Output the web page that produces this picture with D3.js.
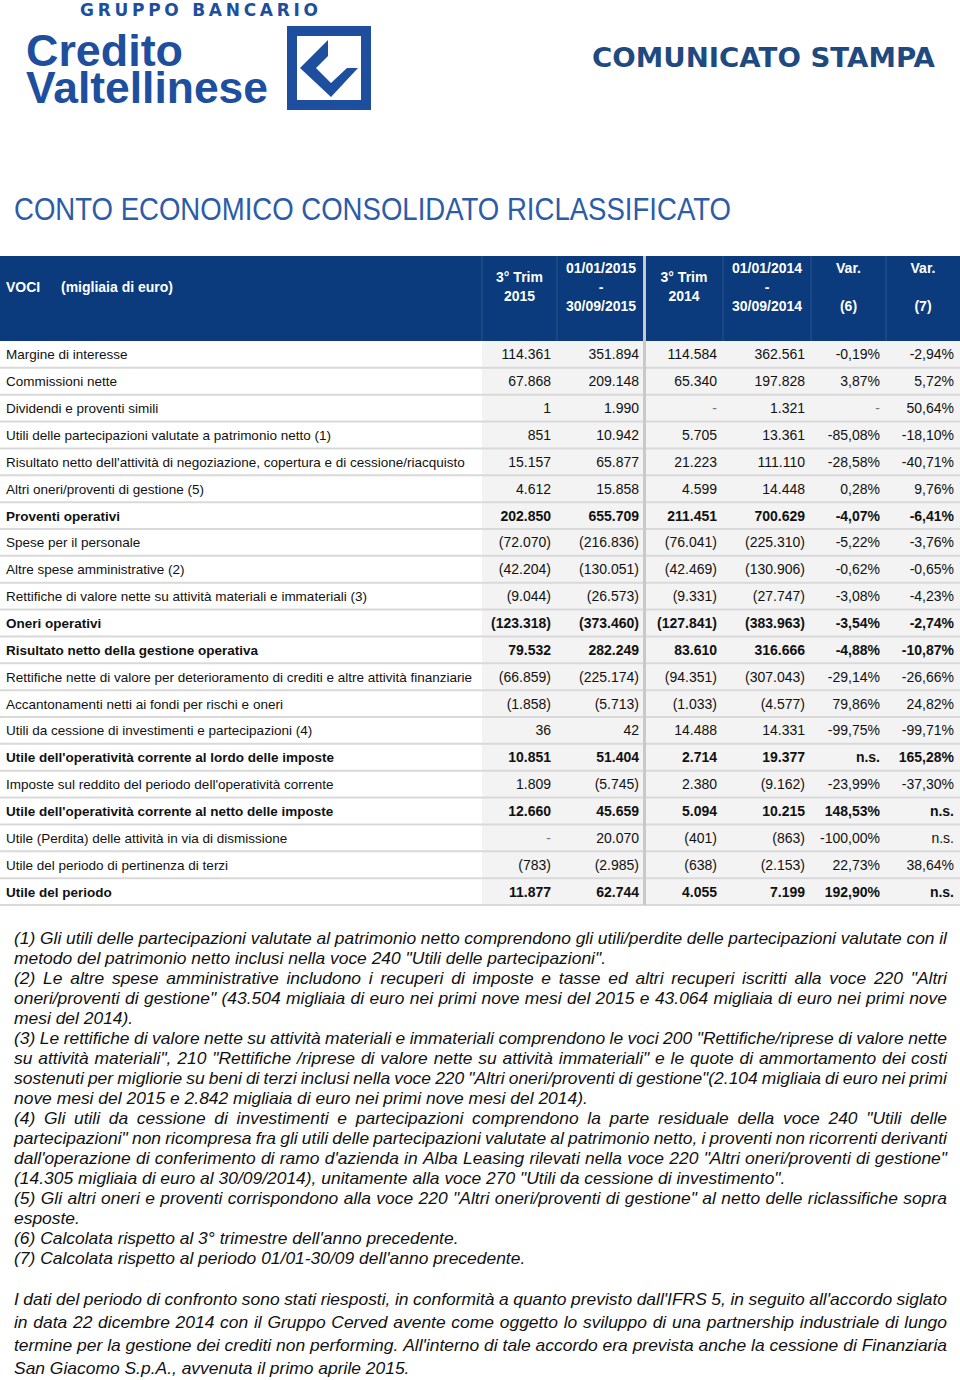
<!DOCTYPE html>
<html>
<head>
<meta charset="utf-8">
<script src="https://cdn.jsdelivr.net/npm/d3@7"></script>
<style>
  body { margin: 0; background: #fff; }
  svg { display: block; }
</style>
</head>
<body>
<div class="page"></div>
<script>
// voci del conto economico
var voci = [
  "Margine di interesse",
  "Commissioni nette",
  "Dividendi e proventi simili",
  "Utili delle partecipazioni valutate a patrimonio netto (1)",
  "Risultato netto dell'attività di negoziazione, copertura e di cessione/riacquisto",
  "Altri oneri/proventi di gestione (5)",
  "Proventi operativi",
  "Spese per il personale",
  "Altre spese amministrative (2)",
  "Rettifiche di valore nette su attività materiali e immateriali (3)",
  "Oneri operativi",
  "Risultato netto della gestione operativa",
  "Rettifiche nette di valore per deterioramento di crediti e altre attività finanziarie",
  "Accantonamenti netti ai fondi per rischi e oneri",
  "Utili da cessione di investimenti e partecipazioni (4)",
  "Utile dell'operatività corrente al lordo delle imposte",
  "Imposte sul reddito del periodo dell'operatività corrente",
  "Utile dell'operatività corrente al netto delle imposte",
  "Utile (Perdita) delle attività in via di dismissione",
  "Utile del periodo di pertinenza di terzi",
  "Utile del periodo"
];
var totali = ["Proventi operativi", "Oneri operativi", "Risultato netto della gestione operativa",
  "Utile dell'operatività corrente al lordo delle imposte",
  "Utile dell'operatività corrente al netto delle imposte", "Utile del periodo"];

var trim2015 = ["114.361","67.868","1","851","15.157","4.612","202.850","(72.070)","(42.204)","(9.044)",
  "(123.318)","79.532","(66.859)","(1.858)","36","10.851","1.809","12.660","-","(783)","11.877"];
var periodo2015 = ["351.894","209.148","1.990","10.942","65.877","15.858","655.709","(216.836)","(130.051)","(26.573)",
  "(373.460)","282.249","(225.174)","(5.713)","42","51.404","(5.745)","45.659","20.070","(2.985)","62.744"];
var trim2014 = ["114.584","65.340","-","5.705","21.223","4.599","211.451","(76.041)","(42.469)","(9.331)",
  "(127.841)","83.610","(94.351)","(1.033)","14.488","2.714","2.380","5.094","(401)","(638)","4.055"];
var periodo2014 = ["362.561","197.828","1.321","13.361","111.110","14.448","700.629","(225.310)","(130.906)","(27.747)",
  "(383.963)","316.666","(307.043)","(4.577)","14.331","19.377","(9.162)","10.215","(863)","(2.153)","7.199"];
var var6 = ["-0,19%","3,87%","-","-85,08%","-28,58%","0,28%","-4,07%","-5,22%","-0,62%","-3,08%",
  "-3,54%","-4,88%","-29,14%","79,86%","-99,75%","n.s.","-23,99%","148,53%","-100,00%","22,73%","192,90%"];
var var7 = ["-2,94%","5,72%","50,64%","-18,10%","-40,71%","9,76%","-6,41%","-3,76%","-0,65%","-4,23%",
  "-2,74%","-10,87%","-26,66%","24,82%","-99,71%","165,28%","-37,30%","n.s.","n.s.","38,64%","n.s."];

var colonne = ["t15", "p15", "t14", "p14", "v6", "v7"];
var intestazioni = [
  ["3° Trim", "2015"],
  ["01/01/2015", "-", "30/09/2015"],
  ["3° Trim", "2014"],
  ["01/01/2014", "-", "30/09/2014"],
  ["Var.", "", "(6)"],
  ["Var.", "", "(7)"]
];

var note = [
  ["(1) Gli utili delle partecipazioni valutate al patrimonio netto comprendono gli utili/perdite delle partecipazioni valutate con il", true],
  ["metodo del patrimonio netto inclusi nella voce 240 \"Utili delle partecipazioni\".", false],
  ["(2) Le altre spese amministrative includono i recuperi di imposte e tasse ed altri recuperi iscritti alla voce 220 \"Altri", true],
  ["oneri/proventi di gestione\" (43.504 migliaia di euro nei primi nove mesi del 2015 e 43.064 migliaia di euro nei primi nove", true],
  ["mesi del 2014).", false],
  ["(3) Le rettifiche di valore nette su attività materiali e immateriali comprendono le voci 200 \"Rettifiche/riprese di valore nette", true],
  ["su attività materiali\", 210 \"Rettifiche /riprese di valore nette su attività immateriali\" e le quote di ammortamento dei costi", true],
  ["sostenuti per migliorie su beni di terzi inclusi nella voce 220 \"Altri oneri/proventi di gestione\"(2.104 migliaia di euro nei primi", true],
  ["nove mesi del 2015 e 2.842 migliaia di euro nei primi nove mesi del 2014).", false],
  ["(4) Gli utili da cessione di investimenti e partecipazioni comprendono la parte residuale della voce 240 \"Utili delle", true],
  ["partecipazioni\" non ricompresa fra gli utili delle partecipazioni valutate al patrimonio netto, i proventi non ricorrenti derivanti", true],
  ["dall'operazione di conferimento di ramo d'azienda in Alba Leasing rilevati nella voce 220 \"Altri oneri/proventi di gestione\"", true],
  ["(14.305 migliaia di euro al 30/09/2014), unitamente alla voce 270 \"Utili da cessione di investimento\".", false],
  ["(5) Gli altri oneri e proventi corrispondono alla voce 220 \"Altri oneri/proventi di gestione\" al netto delle riclassifiche sopra", true],
  ["esposte.", false],
  ["(6) Calcolata rispetto al 3° trimestre dell'anno precedente.", false],
  ["(7) Calcolata rispetto al periodo 01/01-30/09 dell'anno precedente.", false]
];
var nota = [
  ["I dati del periodo di confronto sono stati riesposti, in conformità a quanto previsto dall'IFRS 5, in seguito all'accordo siglato", true],
  ["in data 22 dicembre 2014 con il Gruppo Cerved avente come oggetto lo sviluppo di una partnership industriale di lungo", true],
  ["termine per la gestione dei crediti non performing.  All'interno di tale accordo era prevista anche la cessione di Finanziaria", true],
  ["San Giacomo S.p.A., avvenuta il primo aprile 2015.", false]
];

var righe = voci.map(function (v, i) {
  return { voce: v, bold: totali.indexOf(v) >= 0,
    t15: trim2015[i], p15: periodo2015[i], t14: trim2014[i], p14: periodo2014[i], v6: var6[i], v7: var7[i] };
});

var W = 960, H = 1380;
var svg = d3.select(".page").append("svg")
  .attr("width", W)
  .attr("height", H);

var blu = "#0b3b7c";

// ---- logo ----
var logo = svg.append("g").attr("fill", "#1d4f9e");
logo.append("text")
  .attr("x", 80).attr("y", 16)
  .attr("font-family", "DejaVu Sans").attr("font-weight", "bold").attr("font-size", 17)
  .attr("textLength", 238).attr("lengthAdjust", "spacing")
  .text("GRUPPO BANCARIO");
logo.append("text")
  .attr("x", 26).attr("y", 66)
  .attr("font-family", "Liberation Sans, Arial").attr("font-weight", "bold").attr("font-size", 45)
  .attr("textLength", 157).attr("lengthAdjust", "spacingAndGlyphs")
  .text("Credito");
logo.append("text")
  .attr("x", 26).attr("y", 103)
  .attr("font-family", "Liberation Sans, Arial").attr("font-weight", "bold").attr("font-size", 44)
  .attr("textLength", 242).attr("lengthAdjust", "spacingAndGlyphs")
  .text("Valtellinese");
logo.append("rect")
  .attr("x", 292).attr("y", 31).attr("width", 74).attr("height", 74)
  .attr("fill", "none").attr("stroke", "#1d4f9e").attr("stroke-width", 10);
logo.append("polygon")
  .attr("points", "300,68 328,40 328,56 316,68 331,83 347,68 358,68 331,97");

svg.append("text")
  .attr("x", 592).attr("y", 67)
  .attr("font-family", "DejaVu Sans").attr("font-weight", "bold").attr("font-size", 27)
  .attr("fill", "#1f4a80")
  .attr("textLength", 343).attr("lengthAdjust", "spacingAndGlyphs")
  .text("COMUNICATO STAMPA");

svg.append("text")
  .attr("x", 14).attr("y", 220)
  .attr("font-family", "Liberation Sans, Arial").attr("font-size", 32)
  .attr("fill", "#2c5ca8")
  .attr("textLength", 717).attr("lengthAdjust", "spacingAndGlyphs")
  .text("CONTO ECONOMICO CONSOLIDATO RICLASSIFICATO");

// ---- tabella ----
var bordi = [482, 557, 645, 723, 811, 886, 960];
var xSinistra = d3.scaleOrdinal().domain(colonne).range(bordi.slice(0, 6));
var xDestra = d3.scaleOrdinal().domain(colonne).range(bordi.slice(1));

var headTop = 256, headBot = 341;
var y = d3.scaleBand().domain(d3.range(righe.length)).range([headBot, 905]).paddingInner(0);

// intestazione
svg.append("rect").attr("x", 0).attr("y", headTop).attr("width", W).attr("height", headBot - headTop).attr("fill", blu);

var head = svg.append("g")
  .attr("font-family", "Liberation Sans, Arial").attr("font-weight", "bold").attr("font-size", 14)
  .attr("fill", "#fff");
head.append("text").attr("x", 6).attr("y", 292).text("VOCI");
head.append("text").attr("x", 61).attr("y", 292).text("(migliaia di euro)");

colonne.forEach(function (c, j) {
  var cx = (xSinistra(c) + xDestra(c)) / 2;
  var lines = intestazioni[j];
  var y0 = lines.length === 2 ? 282 : 273;
  head.selectAll(null).data(lines).enter().append("text")
    .attr("x", cx).attr("y", function (d, k) { return y0 + k * 19; })
    .attr("text-anchor", "middle")
    .text(function (d) { return d; });
});

// separatori verticali intestazione
svg.selectAll(".sepH").data(bordi.slice(0, 6)).enter().append("line")
  .attr("x1", function (d) { return d; }).attr("x2", function (d) { return d; })
  .attr("y1", headTop).attr("y2", headBot)
  .attr("stroke", "#2a5790").attr("stroke-width", 1);

// sfondo colonne numeriche
svg.append("rect")
  .attr("x", bordi[0]).attr("y", headBot).attr("width", W - bordi[0]).attr("height", y.range()[1] - headBot)
  .attr("fill", "#f3f3f3");

// righe
var rows = svg.selectAll(".riga").data(righe).enter().append("g")
  .attr("transform", function (d, i) { return "translate(0," + y(i) + ")"; });

rows.append("line")
  .attr("x1", 0).attr("x2", W)
  .attr("y1", y.bandwidth()).attr("y2", y.bandwidth())
  .attr("stroke", "#d9d9d9").attr("stroke-width", 2);

rows.append("text")
  .attr("x", 6).attr("y", y.bandwidth() / 2 + 5)
  .attr("font-family", "Liberation Sans, Arial").attr("font-size", 13.5)
  .attr("font-weight", function (d) { return d.bold ? "bold" : "normal"; })
  .attr("fill", "#111")
  .text(function (d) { return d.voce; });

colonne.forEach(function (c) {
  rows.append("text")
    .attr("x", xDestra(c) - 6).attr("y", y.bandwidth() / 2 + 5)
    .attr("text-anchor", "end")
    .attr("font-family", "Liberation Sans, Arial").attr("font-size", 14)
    .attr("font-weight", function (d) { return d.bold ? "bold" : "normal"; })
    .attr("fill", function (d) { return d[c] === "-" ? "#777" : "#111"; })
    .text(function (d) { return d[c]; });
});

// separatore centrale grigio
svg.append("rect")
  .attr("x", bordi[2] - 2).attr("y", headTop).attr("width", 3).attr("height", y.range()[1] - headTop)
  .attr("fill", "#c9c9c9");

// ---- note (font stretto simulato, giustificate parola per parola) ----
var sinistra = 14, giusto = 933;
var gNote = svg.append("g")
  .attr("font-family", "Liberation Sans, Arial").attr("font-style", "italic").attr("font-size", 17)
  .attr("fill", "#111");

var misura = gNote.append("text").attr("x", -1000).attr("y", -1000);
function larghezza(s) {
  misura.text(s);
  return misura.node().getComputedTextLength();
}
var k = 592 / larghezza(note[1][0]);
var spazio = larghezza("a b") - larghezza("ab");

function scrivi(lines, top, step) {
  lines.forEach(function (riga, i) {
    var parole = riga[0].split(/ +/);
    var w = parole.map(function (p) { return larghezza(p) * k; });
    var gap = riga[1] ? (giusto - d3.sum(w)) / (parole.length - 1) : spazio * k;
    var x = sinistra;
    parole.forEach(function (p, j) {
      gNote.append("text")
        .attr("x", x).attr("y", top + i * step)
        .attr("textLength", w[j]).attr("lengthAdjust", "spacingAndGlyphs")
        .text(p);
      x += w[j] + gap;
    });
  });
}
scrivi(note, 944, 20);
scrivi(nota, 1305, 23);
misura.remove();
</script>
</body>
</html>
